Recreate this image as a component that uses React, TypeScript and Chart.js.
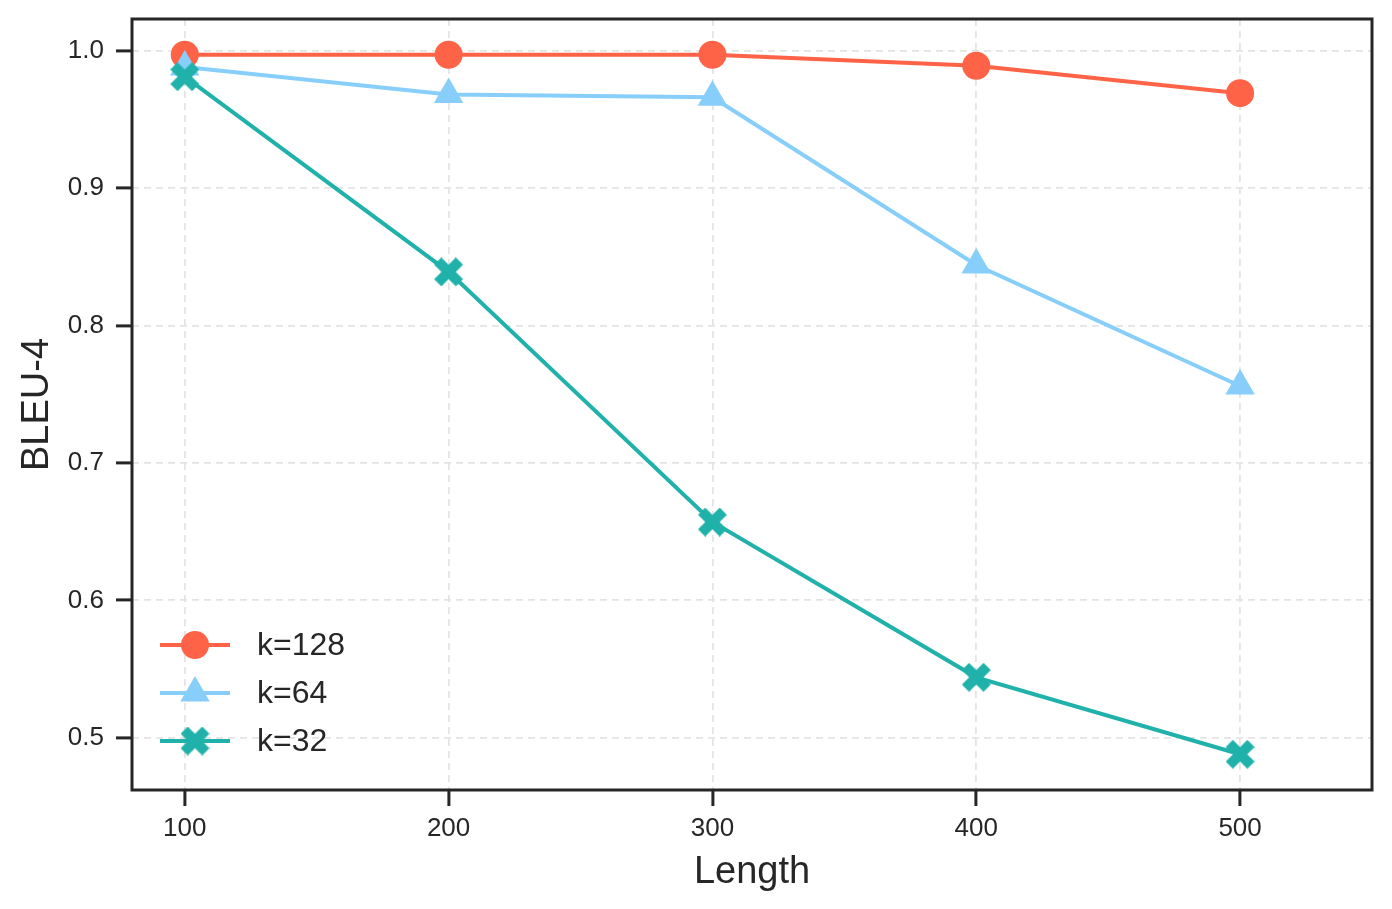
import { useRef, useEffect } from "react"
import { Chart, registerables } from "chart.js"
import { drawPoint } from "chart.js/helpers"

Chart.register(...registerables)

const lengths = [100, 200, 300, 400, 500]
const k128 = [0.997, 0.997, 0.997, 0.989, 0.969]
const k64 = [0.988, 0.968, 0.966, 0.844, 0.756]
const k32 = [0.981, 0.839, 0.657, 0.544, 0.488]

const xTicks = [100, 200, 300, 400, 500]
const yTicks = [0.5, 0.6, 0.7, 0.8, 0.9, 1.0]

const FONT = "'Liberation Sans', Arial, sans-serif"
const DARK = "#262626"

function makeX(color: string, size: number) {
  const c = document.createElement("canvas")
  c.width = size
  c.height = size
  const ctx = c.getContext("2d")!
  const t = size * 0.35
  const L = size * 1.41 - t
  ctx.translate(size / 2, size / 2)
  ctx.rotate(Math.PI / 4)
  ctx.fillStyle = color
  ctx.fillRect(-L / 2, -t / 2, L, t)
  ctx.fillRect(-t / 2, -L / 2, t, L)
  return c
}

const framePlugin = {
  id: "frame",
  afterDraw(chart: any) {
    const { ctx, chartArea } = chart
    ctx.save()
    ctx.strokeStyle = DARK
    ctx.lineWidth = 3
    ctx.strokeRect(chartArea.left, chartArea.top, chartArea.right - chartArea.left, chartArea.bottom - chartArea.top)
    ctx.restore()
  },
}

const legendPlugin = {
  id: "innerLegend",
  afterDraw(chart: any) {
    const { ctx, chartArea } = chart
    const sets = chart.data.datasets
    ctx.save()
    sets.forEach((ds: any, i: number) => {
      const y = chartArea.bottom - 145 + i * 48
      const x0 = chartArea.left + 28
      const x1 = chartArea.left + 98
      ctx.strokeStyle = ds.borderColor
      ctx.lineWidth = ds.borderWidth
      ctx.beginPath()
      ctx.moveTo(x0, y)
      ctx.lineTo(x1, y)
      ctx.stroke()
      ctx.fillStyle = ds.borderColor
      drawPoint(ctx, { pointStyle: ds.pointStyle, radius: ds.pointRadius, rotation: 0, borderWidth: 0 } as any, (x0 + x1) / 2, y)
      ctx.fillStyle = DARK
      ctx.font = `32px ${FONT}`
      ctx.textBaseline = "middle"
      ctx.textAlign = "left"
      ctx.fillText(ds.label, chartArea.left + 125, y + 1)
    })
    ctx.restore()
  },
}

export default function App() {
  const chartRef = useRef<HTMLCanvasElement>(null)
  const chartInstance = useRef<Chart | null>(null)

  useEffect(() => {
    if (!chartRef.current) return
    if (chartInstance.current) chartInstance.current.destroy()
    const ctx = chartRef.current.getContext("2d")
    if (!ctx) return

    const series = [
      { label: "k=128", values: k128, color: "#FF6347", style: "circle" as any, radius: 14, order: 2 },
      { label: "k=64", values: k64, color: "#87CEFA", style: "triangle" as any, radius: 17, order: 1 },
      { label: "k=32", values: k32, color: "#20B2AA", style: makeX("#20B2AA", 29) as any, radius: 14, order: 0 },
    ]

    const tickFont = { family: FONT, size: 26 }
    const titleFont = { family: FONT, size: 38 }

    chartInstance.current = new Chart(ctx, {
      type: "line",
      data: {
        datasets: series.map((s) => ({
          label: s.label,
          data: lengths.map((x, i) => ({ x, y: s.values[i] })),
          borderColor: s.color,
          backgroundColor: s.color,
          borderWidth: 4,
          pointStyle: s.style,
          pointRadius: s.radius,
          pointBackgroundColor: s.color,
          pointBorderWidth: 0,
          order: s.order,
          clip: false as any,
        })),
      },
      options: {
        animation: false,
        responsive: false,
        devicePixelRatio: 1,
        layout: { padding: { top: 19, right: 20, left: 0, bottom: 0 } },
        plugins: { legend: { display: false }, tooltip: { enabled: false } },
        scales: {
          x: {
            type: "linear",
            min: 80,
            max: 550,
            afterBuildTicks: (scale: any) => {
              scale.ticks = xTicks.map((value) => ({ value }))
            },
            afterFit: (scale: any) => {
              scale.height = 119
              scale.paddingLeft = 0
              scale.paddingRight = 0
            },
            ticks: { font: tickFont, color: DARK, padding: 7, maxRotation: 0, callback: (v: any) => String(v) },
            grid: {
              color: "#e4e4e4",
              lineWidth: 1.8,
              tickColor: DARK,
              tickLength: 16,
              tickWidth: 3,
              tickBorderDash: [],
            },
            border: { display: false, dash: [7, 5] },
            title: { display: true, text: "Length", font: titleFont, color: DARK, padding: { top: 0, bottom: 14 } },
          },
          y: {
            type: "linear",
            min: 0.462,
            max: 1.023,
            afterBuildTicks: (scale: any) => {
              scale.ticks = yTicks.map((value) => ({ value }))
            },
            afterFit: (scale: any) => {
              scale.width = 132
              scale.paddingTop = 0
              scale.paddingBottom = 0
            },
            ticks: { font: tickFont, color: DARK, padding: 12, callback: (v: any) => Number(v).toFixed(1) },
            grid: {
              color: "#e4e4e4",
              lineWidth: 1.8,
              tickColor: DARK,
              tickLength: 16,
              tickWidth: 3,
              tickBorderDash: [],
            },
            border: { display: false, dash: [7, 5] },
            title: { display: true, text: "BLEU-4", font: titleFont, color: DARK, padding: { top: 15, bottom: 0 } },
          },
        },
      },
      plugins: [framePlugin, legendPlugin],
    })

    return () => {
      if (chartInstance.current) {
        chartInstance.current.destroy()
        chartInstance.current = null
      }
    }
  }, [])

  return (
    <div style={{ position: "absolute", left: 0, top: 0, width: 1392, height: 909, background: "#fff" }}>
      <canvas ref={chartRef} width={1392} height={909} />
    </div>
  )
}
